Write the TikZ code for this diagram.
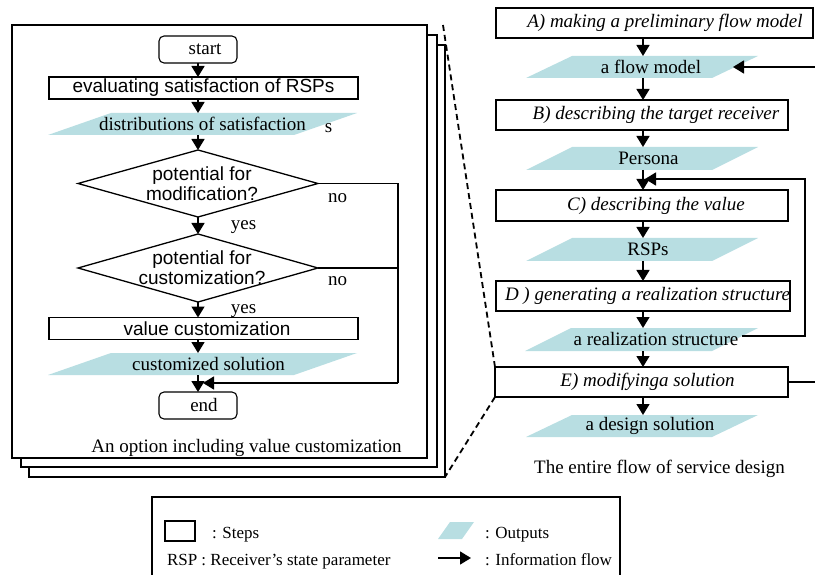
\documentclass[tikz,border=0pt]{standalone}
\usepackage{fontspec}
\setmainfont{Liberation Serif}
\setsansfont{Liberation Sans}
\usetikzlibrary{arrows.meta}
\definecolor{outc}{RGB}{184,222,226}
\begin{document}
\begin{tikzpicture}[x=1pt,y=-1pt,
  every node/.style={inner sep=0pt, outer sep=0pt, font=\fontsize{19}{21}\selectfont},
  ln/.style={line width=1.3pt},
  arr/.style={line width=1.5pt, -{Triangle[width=13pt,length=11pt]}},
  frame/.style={draw, fill=white, line width=1.1pt},
  boxL/.style={draw, line width=1.1pt, minimum height=22pt, minimum width=309pt, font=\sffamily\fontsize{19}{21}\selectfont},
  boxR/.style={draw, line width=1.1pt, minimum height=30pt, minimum width=292pt, font=\itshape\fontsize{19}{21}\selectfont},
  term/.style={draw, line width=1.1pt, rounded corners=5pt, minimum width=78pt, minimum height=27pt},
  decision/.style={minimum width=240pt, minimum height=67pt, align=center, font=\sffamily\fontsize{19}{20}\selectfont},
  outp/.style={minimum height=22pt, path picture={\fill[outc] (path picture bounding box.south west) -- ([xshift=#1]path picture bounding box.north west) -- (path picture bounding box.north east) -- ([xshift=-#1]path picture bounding box.south east) -- cycle;}},
  lbl/.style={anchor=base},
  leg/.style={anchor=base west, font=\fontsize{17}{19}\selectfont}
]
\useasboundingbox (0,0) rectangle (815,575);

% stacked frames
\draw[frame] (29,45) rectangle (445,477);
\draw[frame] (21,35) rectangle (437,467);
\draw[frame] (12,25) rectangle (427,458);

\coordinate (cL) at (198,0);
\coordinate (cR) at (643,0);

% left flow
\node[term] (start) at (198,49.5) {\hspace{14pt}start};
\node[boxL] (eval) at (203.5,88) {evaluating satisfaction of RSPs\hspace{10pt}};
\node[outp=63pt, minimum width=309pt] (dist) at (202.5,124) {distributions of satisfaction\hspace{13pt}};
\node[lbl] (stray) at (328.5,133) {s};
\node[decision] (d1) at (198,183.5) {\hspace*{8pt}potential for\\\hspace*{8pt}modification?};
\draw[ln] (d1.west) -- (d1.north) -- (d1.east) -- (d1.south) -- cycle;
\node[decision, minimum height=68pt] (d2) at (198,268) {\hspace*{8pt}potential for\\\hspace*{8pt}customization?};
\draw[ln] (d2.west) -- (d2.north) -- (d2.east) -- (d2.south) -- cycle;
\node[boxL] (vc) at (203.5,328.5) {\hspace{7pt}value customization};
\node[outp=63pt, minimum width=309pt] (cs) at (202.5,364) {\hspace{12pt}customized solution};
\node[term] (end) at (198,405.5) {\hspace{12pt}end};

\node[lbl] (no1) at (337.5,203) {no};
\node[lbl] (no2) at (337.5,285) {no};
\node[lbl] (yes1) at (243.5,230) {yes};
\node[lbl] (yes2) at (243.5,313) {yes};

\draw[arr] (start.south -| cL) -- (eval.north -| cL);
\draw[arr] (eval.south -| cL) -- (dist.north -| cL);
\draw[arr] (dist.south -| cL) -- (d1.north);
\draw[arr] (d1.south) -- (d2.north);
\draw[arr] (d2.south) -- (vc.north -| cL);
\draw[arr] (vc.south -| cL) -- (cs.north -| cL);
\draw[arr] (cs.south -| cL) -- (end.north);
\coordinate (loopB) at (398,383);
\coordinate (endIn) at (203,383);
\draw[ln] (d1.east) -| (loopB);
\draw[ln] (d2.east) -- (d2.east -| loopB);
\draw[arr] (loopB) -- (endIn);

\node[lbl] (capL) at (246.5,452) {An option including value customization};

% right flow
\node[boxR, minimum width=317pt] (A) at (654.5,23) {\hspace{21pt}A) making a preliminary flow model};
\node[outp=46pt, minimum width=232pt] (fm) at (642,67) {\hspace{18pt}a flow model};
\node[boxR] (B) at (642,115) {\hspace{28pt}B) describing the target receiver};
\node[outp=46pt, minimum width=232pt, minimum height=23pt] (per) at (642,158.5) {\hspace{13pt}Persona};
\node[boxR, minimum height=31pt] (C) at (642,205.5) {\hspace{28pt}C) describing the value};
\node[outp=46pt, minimum width=232pt, minimum height=23pt] (rsp) at (642,249.5) {\hspace{12pt}RSPs};
\node[boxR, minimum width=294pt] (D) at (643,296) {\hspace{9pt}\makebox[285pt][l]{D ) generating a realization structure}};
\node[outp=46pt, minimum width=233pt, minimum height=23pt] (rs) at (641.5,339.5) {\hspace{29pt}a realization structure};
\node[boxR, minimum width=293pt] (E) at (641.5,382) {\hspace{12pt}E) modifyinga solution};
\node[outp=46pt, minimum width=232pt] (ds) at (642,426) {\hspace{16pt}a design solution};

\node[lbl] (capR) at (659.5,473) {The entire flow of service design};

\draw[arr] (A.south -| cR) -- (fm.north -| cR);
\draw[arr] (fm.south -| cR) -- (B.north -| cR);
\draw[arr] (B.south -| cR) -- (per.north -| cR);
\draw[arr] (per.south -| cR) -- (C.north -| cR);
\draw[arr] (C.south -| cR) -- (rsp.north -| cR);
\draw[arr] (rsp.south -| cR) -- (D.north -| cR);
\draw[arr] (D.south -| cR) -- (rs.north -| cR);
\draw[arr] (rs.south -| cR) -- (E.north -| cR);
\draw[arr] (E.south -| cR) -- (ds.north -| cR);

\coordinate (rsR) at (742,336);
\coordinate (joinC) at (645,179);
\draw[arr] (rsR) -- (805,336) -- (805,179) -- (joinC);
\draw[arr] (E.east) -- (835,382) -- (835,67) -- ([xshift=-25pt]fm.east);

% dashed zoom lines
\coordinate (zTop) at (443,25);
\coordinate (zBot) at (445,477);
\draw[line width=1.8pt, dash pattern=on 6pt off 4pt] (zTop) -- (E.north west);
\draw[line width=1.8pt, dash pattern=on 6pt off 4pt] (E.south west) -- (zBot);

% legend
\draw[line width=1.1pt] (152,497) rectangle (620,600);
\node[draw, line width=1.1pt, minimum width=30pt, minimum height=20pt] (lstep) at (180,531) {};
\node[leg] (lsteps) at (212,538) {: Steps};
\node[leg] (lrsp) at (167,565) {RSP : Receiver's state parameter};
\node[outp=12pt, minimum width=36pt, minimum height=17pt] (lout) at (456,530.5) {};
\node[leg] (louts) at (485,538) {: Outputs};
\coordinate (la1) at (438,558);
\coordinate (la2) at (471,558);
\draw[arr] (la1) -- (la2);
\node[leg] (linfo) at (485,565) {: Information flow};
\end{tikzpicture}
\end{document}
